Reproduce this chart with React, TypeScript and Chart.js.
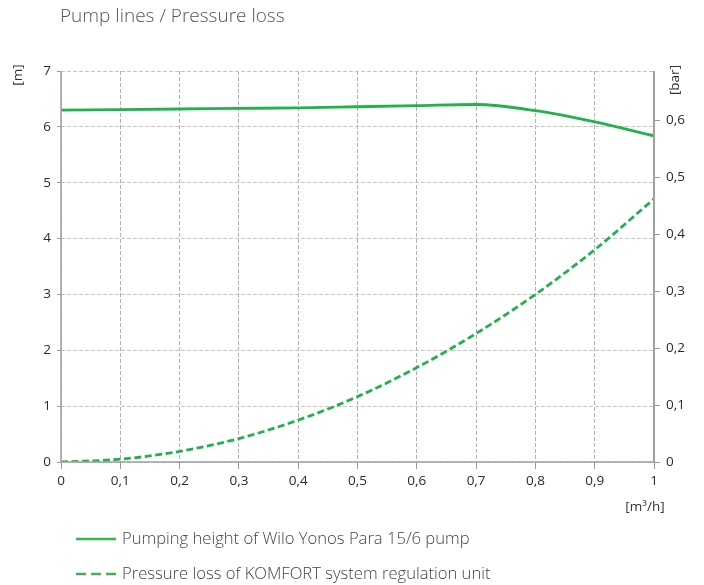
import React, { useEffect, useRef } from "react";
import { Chart, registerables } from "chart.js";

Chart.register(...registerables);

const TITLE = "Pump lines / Pressure loss";
const flowValues = [0, 0.1, 0.2, 0.3, 0.4, 0.5, 0.6, 0.7, 0.8, 0.9, 1.0];
const pumpHeight = [6.3, 6.31, 6.32, 6.33, 6.34, 6.36, 6.38, 6.4, 6.29, 6.09, 5.84];
const pressureLoss = [0, 0.05, 0.19, 0.42, 0.75, 1.17, 1.69, 2.3, 3.0, 3.8, 4.71];
const seriesLabels = [
  "Pumping height of Wilo Yonos Para 15/6 pump",
  "Pressure loss of KOMFORT system regulation unit",
];
const leftUnit = "[m]";
const rightUnit = "[bar]";
const xUnit = "[m³/h]";
const M_TO_BAR = 0.0981;
const leftMax = 7;

const GREEN = "#22b24c";
const FONT = "'Open Sans', 'Noto Sans', sans-serif";

const fmt = (v: number) => {
  const r = Math.round(v * 10) / 10;
  if (r === 0) return "0";
  if (r === 1) return "1";
  return r.toFixed(1).replace(".", ",");
};

const decorPlugin = {
  id: "decor",
  afterDatasetsDraw(chart: any) {
    const { ctx, chartArea } = chart;
    ctx.save();
    ctx.setLineDash([]);
    ctx.strokeStyle = "#a0a0a0";
    ctx.lineWidth = 1.5;
    ctx.beginPath();
    ctx.moveTo(chartArea.left, chartArea.top);
    ctx.lineTo(chartArea.left, chartArea.bottom);
    ctx.lineTo(chartArea.right, chartArea.bottom);
    ctx.stroke();
    ctx.lineWidth = 2;
    ctx.beginPath();
    ctx.moveTo(chartArea.right, chartArea.top);
    ctx.lineTo(chartArea.right, chartArea.bottom);
    ctx.stroke();
    ctx.restore();
  },
  afterDraw(chart: any) {
    const { ctx, chartArea } = chart;
    ctx.save();
    // title
    ctx.fillStyle = "#555";
    ctx.font = `300 19px ${FONT}`;
    ctx.textBaseline = "middle";
    ctx.textAlign = "left";
    ctx.fillText(TITLE, chartArea.left - 1, 17);

    // unit labels
    ctx.fillStyle = "#333";
    ctx.font = `13.5px ${FONT}`;
    ctx.save();
    ctx.translate(18, chartArea.top + 4);
    ctx.rotate(-Math.PI / 2);
    ctx.textAlign = "center";
    ctx.fillText(leftUnit, 0, 0);
    ctx.restore();
    ctx.save();
    ctx.translate(chartArea.right + 21, chartArea.top + 9);
    ctx.rotate(-Math.PI / 2);
    ctx.textAlign = "center";
    ctx.fillText(rightUnit, 0, 0);
    ctx.restore();
    ctx.textAlign = "center";
    ctx.fillText(xUnit, chartArea.right - 9, chartArea.bottom + 45);

    // legend
    const ds = chart.data.datasets;
    ds.forEach((d: any, i: number) => {
      const y = chartArea.bottom + 77 + i * 35;
      const x0 = chartArea.left + 15;
      ctx.save();
      ctx.strokeStyle = "#3db54e";
      ctx.lineWidth = 2.5;
      ctx.setLineDash(d.borderDash ? [10, 5] : []);
      ctx.beginPath();
      ctx.moveTo(x0, y);
      ctx.lineTo(x0 + 40, y);
      ctx.stroke();
      ctx.restore();
      ctx.fillStyle = "#444";
      ctx.font = `300 16.6px ${FONT}`;
      ctx.textAlign = "left";
      ctx.fillText(d.label, x0 + 46, y);
    });
    ctx.restore();
  },
};

export default function App() {
  const ref = useRef<HTMLCanvasElement>(null);
  useEffect(() => {
    if (!ref.current) return;
    const tickFont = { family: FONT, size: 13.5 };
    const chart = new Chart(ref.current, {
      type: "line",
      data: {
        datasets: [
          {
            label: seriesLabels[0],
            data: flowValues.map((x, i) => ({ x, y: pumpHeight[i] })),
            borderColor: GREEN,
            borderWidth: 2.8,
            pointRadius: 0,
            cubicInterpolationMode: "monotone",
            yAxisID: "y",
          },
          {
            label: seriesLabels[1],
            data: flowValues.map((x, i) => ({ x, y: pressureLoss[i] })),
            borderColor: GREEN,
            borderWidth: 2.8,
            borderDash: [7, 3.5],
            pointRadius: 0,
            cubicInterpolationMode: "monotone",
            yAxisID: "y",
          },
        ],
      },
      options: {
        animation: false,
        responsive: false,
        maintainAspectRatio: false,
        layout: { padding: { top: 71, left: 0, right: 0, bottom: 0 } },
        plugins: { legend: { display: false }, tooltip: { enabled: false }, title: { display: false } },
        scales: {
          x: {
            type: "linear",
            min: 0,
            max: 1,
            ticks: { stepSize: 0.1, callback: (v: any) => fmt(Number(v)), color: "#2a2a2a", font: tickFont, padding: 4, maxRotation: 0 },
            grid: { color: "#b0b0b0", lineWidth: 1, tickLength: 7, tickColor: "#9a9a9a", drawTicks: true },
            border: { display: false, dash: [4, 2] },
            afterFit: (s: any) => { s.height = 123; },
          },
          y: {
            type: "linear",
            position: "left",
            min: 0,
            max: leftMax,
            ticks: { stepSize: 1, color: "#2a2a2a", font: tickFont, padding: 6 },
            grid: { color: "#c4c4c4", lineWidth: 1, tickLength: 4, tickColor: "#9a9a9a" },
            border: { display: false, dash: [4, 2] },
            afterFit: (s: any) => { s.width = 61; },
          },
          y1: {
            type: "linear",
            position: "right",
            min: 0,
            max: leftMax * M_TO_BAR,
            ticks: { stepSize: 0.1, includeBounds: false, callback: (v: any) => fmt(Number(v)), color: "#2a2a2a", font: tickFont, padding: 6 },
            grid: { drawOnChartArea: false, tickLength: 6, tickColor: "#9a9a9a", color: "#9a9a9a" },
            border: { display: false },
            afterFit: (s: any) => { s.width = 50; },
          },
        },
      } as any,
      plugins: [decorPlugin],
    });
    return () => chart.destroy();
  }, []);
  return (
    <div style={{ position: "absolute", left: 0, top: 0, width: 704, height: 585, background: "#fff" }}>
      <canvas ref={ref} width={704} height={585} style={{ width: 704, height: 585 }} />
    </div>
  );
}
